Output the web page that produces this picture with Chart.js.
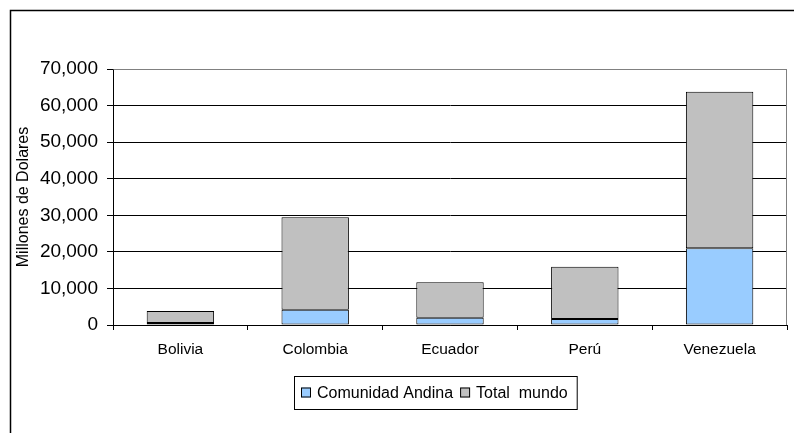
<!DOCTYPE html>
<html>
<head>
<meta charset="utf-8">
<script src="https://cdn.jsdelivr.net/npm/chart.js@4.4.0/dist/chart.umd.min.js"></script>
<style>
  html, body { margin: 0; padding: 0; background: #fff; }
  #grafico { display: block; }
</style>
</head>
<body>
<canvas id="grafico" width="794" height="433"></canvas>
<script>
// datos (millones de dolares)
var paises = ["Bolivia", "Colombia", "Ecuador", "Perú", "Venezuela"];
var comunidadAndina = [550, 4200, 2000, 1650, 21000];
var totalMundo = [3280, 25250, 9700, 14300, 42800];
var serieNombres = ["Comunidad Andina", "Total  mundo"];
var serieColores = ["#99ccff", "#c0c0c0"];
var yTitulo = "Millones de Dolares";

var fuente = "'Liberation Sans', Arial, sans-serif";

// marco exterior, borde del area de trazado y leyenda con recuadro
var marcoPlugin = {
  id: "marco",
  beforeDatasetsDraw: function (chart) {
    var ctx = chart.ctx;
    var a = chart.chartArea;
    ctx.save();
    ctx.strokeStyle = "#808080";
    ctx.lineWidth = 1;
    ctx.beginPath();
    ctx.moveTo(Math.round(a.left) + 0.5, Math.round(a.top) + 0.5);
    ctx.lineTo(Math.round(a.right) - 0.5, Math.round(a.top) + 0.5);
    ctx.lineTo(Math.round(a.right) - 0.5, Math.round(a.bottom));
    ctx.stroke();
    ctx.restore();
  },
  afterDraw: function (chart) {
    var ctx = chart.ctx;
    ctx.save();
    // marco del grafico
    ctx.strokeStyle = "#000";
    ctx.lineWidth = 1.5;
    ctx.beginPath();
    ctx.moveTo(10.5, 440);
    ctx.lineTo(10.5, 10.5);
    ctx.lineTo(800, 10.5);
    ctx.stroke();

    // leyenda
    ctx.font = "16px " + fuente;
    ctx.textBaseline = "middle";
    var x = 294, top = 376, h = 33;
    var cx = x + 7;
    var cy = top + h / 2;
    chart.data.datasets.forEach(function (ds, i) {
      ctx.fillStyle = ds.backgroundColor;
      ctx.fillRect(cx, cy - 5, 10, 10);
      ctx.strokeStyle = "#000";
      ctx.lineWidth = 1;
      ctx.strokeRect(cx + 0.5, cy - 4.5, 9, 9);
      cx += 16;
      ctx.fillStyle = "#000";
      ctx.fillText(ds.label, cx, cy + 1);
      cx += ctx.measureText(ds.label).width + 7;
    });
    ctx.strokeStyle = "#000";
    ctx.lineWidth = 1;
    ctx.strokeRect(x + 0.5, top + 0.5, cx - x + 2, h);
    ctx.restore();
  },
};

var data = {
  labels: paises,
  datasets: [
    {
      label: serieNombres[0],
      data: comunidadAndina,
      backgroundColor: serieColores[0],
      borderColor: "#000",
      borderWidth: 1,
      borderSkipped: false,
    },
    {
      label: serieNombres[1],
      data: totalMundo,
      backgroundColor: serieColores[1],
      borderColor: "#000",
      borderWidth: 1,
      borderSkipped: false,
    },
  ],
};

var config = {
  type: "bar",
  data: data,
  options: {
    responsive: false,
    animation: false,
    devicePixelRatio: 1,
    layout: { padding: { left: 10, top: 69, right: 7, bottom: 0 } },
    datasets: {
      bar: { barPercentage: 0.5, categoryPercentage: 1.0 },
    },
    plugins: {
      legend: { display: false },
      tooltip: { enabled: false },
    },
    scales: {
      x: {
        stacked: true,
        afterFit: function (scale) { scale.height = 108; },
        grid: {
          offset: true,
          drawOnChartArea: false,
          drawTicks: true,
          tickLength: 5,
          color: "#000",
        },
        border: { color: "#000", width: 1 },
        ticks: {
          color: "#000",
          padding: 10,
          font: { family: fuente, size: 15.5 },
        },
      },
      y: {
        stacked: true,
        min: 0,
        max: 70000,
        afterFit: function (scale) { scale.width = 103; },
        grid: {
          color: function (c) { return c.tick && c.tick.value === 70000 ? "#808080" : "#000"; },
          tickColor: "#000",
          tickLength: 6,
        },
        border: { color: "#000", width: 1 },
        ticks: {
          stepSize: 10000,
          color: "#000",
          padding: 9,
          font: { family: fuente, size: 19 },
          callback: function (v) { return v.toLocaleString("en-US"); },
        },
        title: {
          display: true,
          text: yTitulo,
          color: "#000",
          padding: { top: 4, bottom: 0 },
          font: { family: fuente, size: 16 },
        },
      },
    },
  },
  plugins: [marcoPlugin],
};

var myChart = new Chart(document.getElementById("grafico"), config);
</script>
</body>
</html>
